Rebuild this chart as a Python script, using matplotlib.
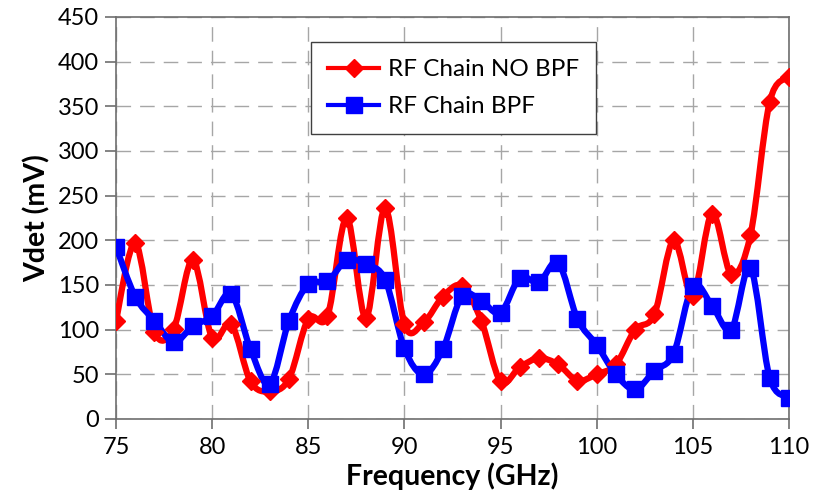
import numpy as np
import matplotlib
matplotlib.use('Agg')
import matplotlib.pyplot as plt
from matplotlib.path import Path
from matplotlib.patches import PathPatch

plt.rcParams['font.family'] = ['Lato', 'DejaVu Sans']

# data (1 GHz steps)
freq = list(range(75, 111))
vdet_no_bpf = [110, 197, 97, 101, 178, 91, 106, 42, 31, 45,
               112, 115, 225, 113, 236, 106, 108, 137, 149, 110,
               42, 58, 68, 61, 43, 50, 61, 100, 117, 200,
               138, 230, 162, 206, 355, 383]
vdet_bpf = [193, 137, 110, 86, 104, 115, 140, 78, 39, 110,
            151, 154, 178, 173, 156, 79, 50, 78, 138, 132,
            119, 158, 153, 175, 112, 83, 50, 33, 54, 73,
            149, 127, 100, 169, 46, 24]


def smooth_path(x, y):
    # Excel-like smoothed line: cubic bezier through every point
    p = np.column_stack([x, y]).astype(float)
    verts = [p[0]]
    codes = [Path.MOVETO]
    n = len(p)
    for i in range(n - 1):
        p0 = p[i - 1] if i > 0 else p[i]
        p1, p2 = p[i], p[i + 1]
        p3 = p[i + 2] if i + 2 < n else p[i + 1]
        c1 = p1 + (p2 - p0) / 6.0
        c2 = p2 - (p3 - p1) / 6.0
        verts += [c1, c2, p2]
        codes += [Path.CURVE4] * 3
    return Path(verts, codes)


fig = plt.figure(figsize=(8.15, 4.97), dpi=100)
ax = fig.add_axes([0.1423, 0.157, 0.8257, 0.8088])

for yv, col, mk, ms, lab in [(vdet_no_bpf, '#ff0000', 'D', 9, 'RF Chain NO BPF'),
                             (vdet_bpf, '#0000ff', 's', 11, 'RF Chain BPF')]:
    ax.add_patch(PathPatch(smooth_path(freq, yv), facecolor='none', edgecolor=col,
                           lw=4.5, capstyle='round', joinstyle='round', zorder=3))
    ax.plot(freq, yv, linestyle='none', marker=mk, ms=ms, color=col, zorder=4)
    # proxy for the legend
    ax.plot([], [], color=col, lw=3, marker=mk, ms=ms, label=lab)

ax.set_xlim(75, 110)
ax.set_ylim(0, 450)
ax.set_xticks(range(75, 111, 5))
ax.set_yticks(range(0, 451, 50))
ax.grid(True, color='#a6a6a6', linestyle=(0, (10.5, 6.5)), lw=1.0)
ax.set_axisbelow(True)
for s in ax.spines.values():
    s.set_color('#6e6e6e')
    s.set_linewidth(1.2)
ax.tick_params(axis='both', labelsize=17, color='#6e6e6e', width=1.2)
ax.tick_params(axis='y', length=8, pad=4)
ax.tick_params(axis='x', length=7, pad=6)

ax.set_xlabel('Frequency (GHz)', fontsize=20.5, fontweight='bold', labelpad=3)
ax.set_ylabel('Vdet (mV)', fontsize=20.5, fontweight='bold', labelpad=5)

leg = ax.legend(loc='upper left', bbox_to_anchor=(311 / 815, 1 - 42 / 497),
                bbox_transform=fig.transFigure, fontsize=17.5, frameon=True,
                fancybox=False, edgecolor='#404040', framealpha=1,
                handlelength=2.1, borderpad=0.7, labelspacing=0.66,
                handletextpad=0.35, borderaxespad=0)
leg.get_frame().set_linewidth(1.0)

fig.savefig('out.png', dpi=100)
